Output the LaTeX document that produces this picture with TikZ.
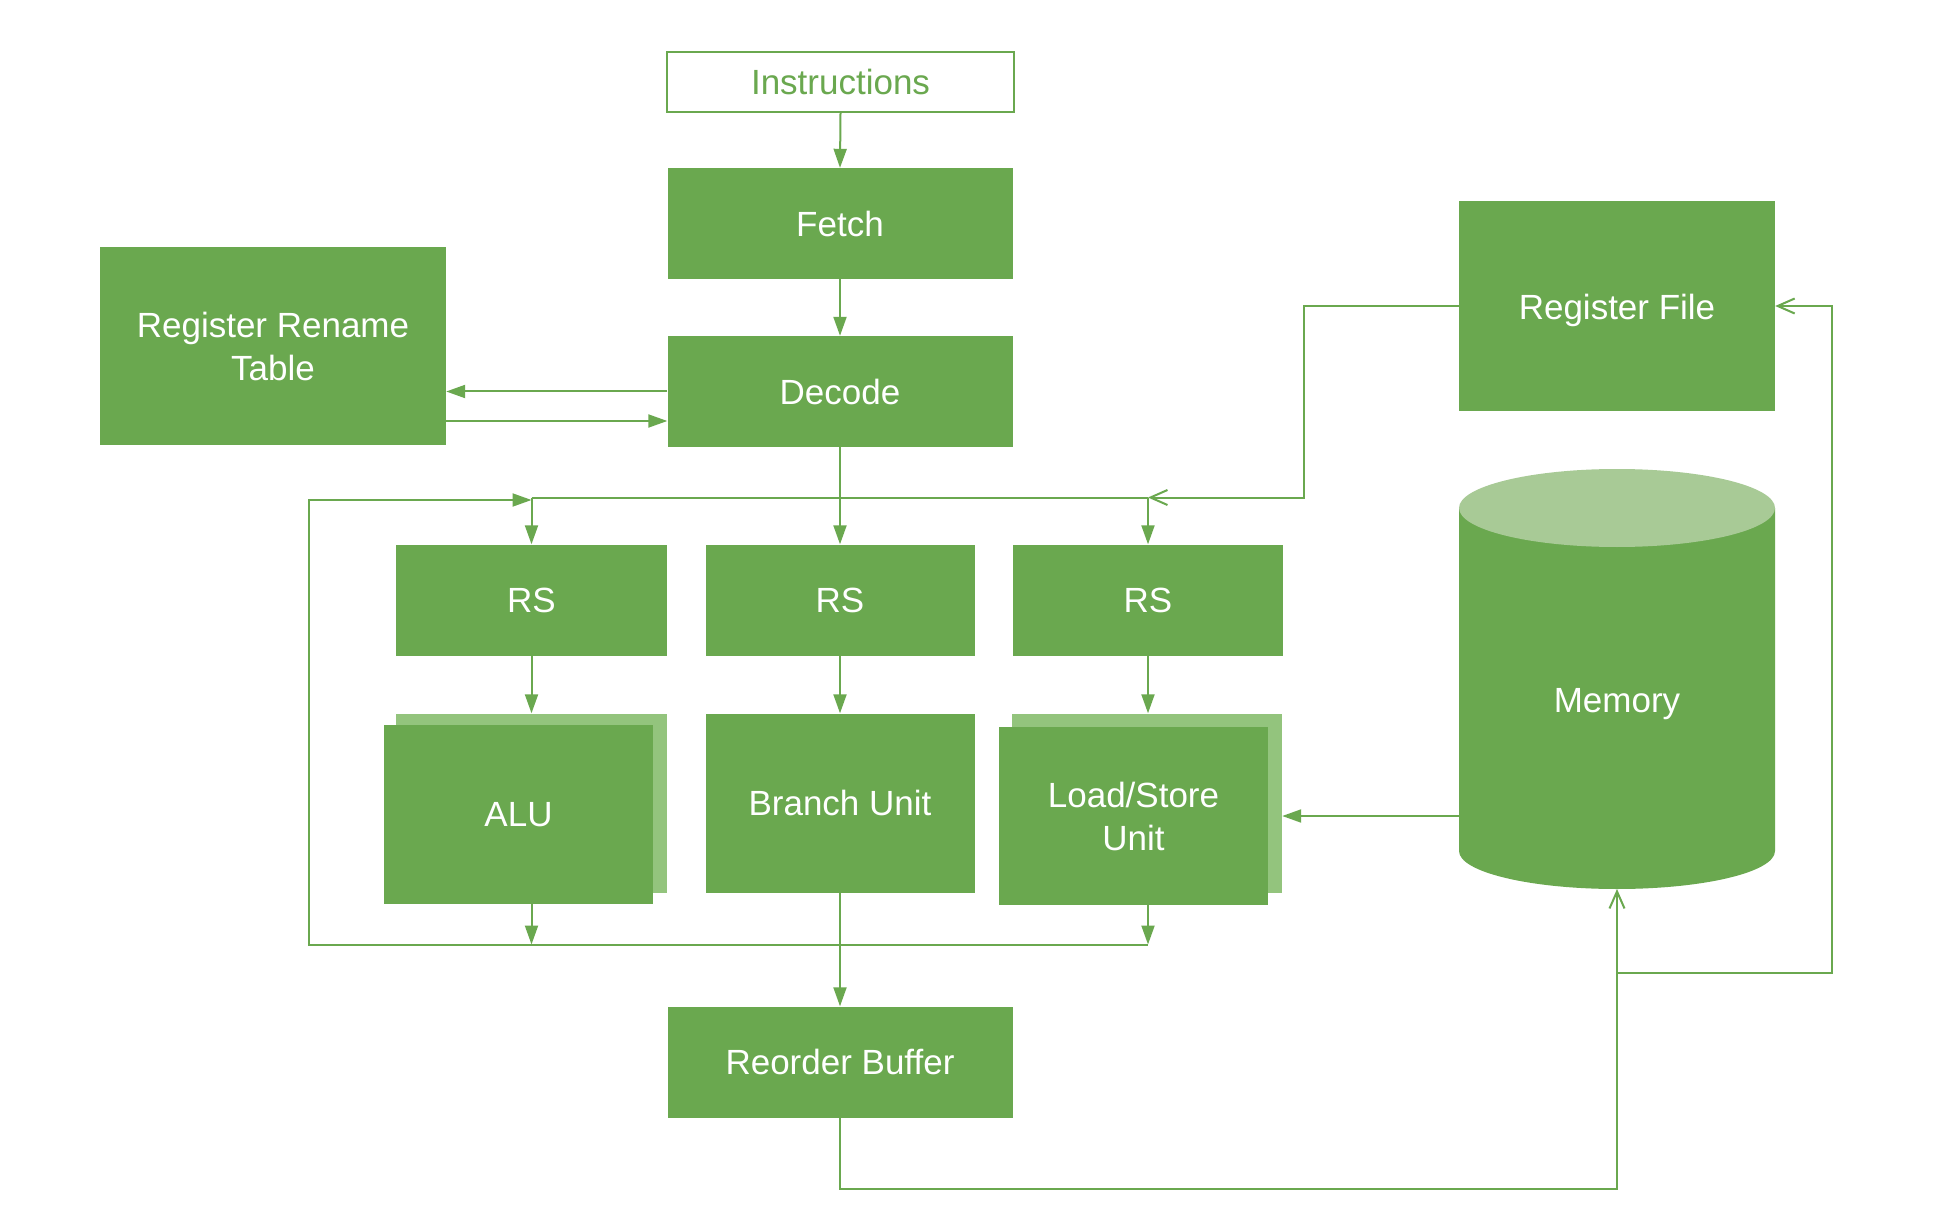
\documentclass[tikz,border=0pt]{standalone}
\usepackage{fontspec}
\setmainfont{Liberation Sans}
\usetikzlibrary{arrows.meta,calc}
\definecolor{gmain}{HTML}{6AA84F}
\definecolor{glight}{HTML}{93C47D}
\definecolor{gtop}{HTML}{A8CA96}
\tikzset{
  box/.style={fill=gmain, draw=none, text=white, inner sep=0pt, align=center,
    font=\fontsize{35}{43}\selectfont},
  shadowbox/.style={fill=glight, draw=none, inner sep=0pt},
  conn/.style={draw=gmain, line width=2pt},
  arr/.style={conn, -{Triangle[length=19pt,width=13pt]}},
  openarr/.style={conn, -{Straight Barb[length=17pt,width=15pt,line width=2pt]}},
}
\begin{document}
\begin{tikzpicture}[x=1pt,y=-1pt]
\useasboundingbox (0,0) rectangle (1936,1214);
\fill[white] (0,0) rectangle (1936,1214);

% top column
\node[box, fill=white, draw=gmain, line width=2pt, text=gmain, minimum width=347pt, minimum height=60pt] (instr) at (840.5,82) {Instructions};
\node[box, minimum width=345pt, minimum height=111pt] (fetch) at (840,223.5) {Fetch};
\node[box, minimum width=345pt, minimum height=111pt] (decode) at (840,391.5) {Decode};
\node[box, minimum width=346pt, minimum height=198pt] (rrt) at (273,346) {Register Rename\\Table};
\node[box, minimum width=316pt, minimum height=210pt] (rf) at (1617,306) {};
\node[box, fill=none] (rftext) at ([yshift=-4pt]rf.center) {Register File};

% memory cylinder
\fill[gmain] (1459,508) -- (1459,851) arc[start angle=180, end angle=360, x radius=158pt, y radius=38pt] -- (1775,508) -- cycle;
\fill[gtop] (1617,508) ellipse[x radius=158pt, y radius=39pt];
\node[box, fill=none, minimum width=316pt, minimum height=300pt] (mem) at (1617,704) {Memory};
\coordinate (memw) at (1459,816);
\coordinate (membot) at (1617,889);

% reservation stations
\node[box, minimum width=271pt, minimum height=111pt] (rs1) at (531.5,600) {RS};
\node[box, minimum width=269pt, minimum height=111pt] (rs2) at (840,600) {RS};
\node[box, minimum width=270pt, minimum height=111pt] (rs3) at (1148,600) {RS};

% execution units
\node[shadowbox, minimum width=271pt, minimum height=179pt] (alus) at (531.5,803) {};
\node[box, minimum width=269pt, minimum height=179pt] (alu) at (518.5,814.5) {ALU};
\node[box, minimum width=269pt, minimum height=179pt] (branch) at (840,803) {Branch Unit};
\node[shadowbox, minimum width=270pt, minimum height=179pt] (lss) at (1147,803) {};
\node[box, minimum width=269pt, minimum height=178pt] (ls) at (1133.5,816) {Load/Store\\Unit};

\node[box, minimum width=345pt, minimum height=111pt] (rb) at (840,1062) {Reorder Buffer};

% bus coordinates
\coordinate (bus) at (840,497.5);
\coordinate (fb) at (309,500);
\coordinate (rfj) at (1304,497.5);
\coordinate (bot) at (840,944.5);
\coordinate (rbc) at (1617,1189);
\coordinate (rfloop) at (1832,973);

% connectors
\draw[arr] (instr.south) -- (fetch.north);
\draw[arr] (fetch.south) -- (decode.north);
\draw[arr] (decode.west) -- (decode.west -| rrt.east);
\draw[arr] ([yshift=-29.5pt]rrt.east |- decode.west) -- ([yshift=-29.5pt]decode.west);
\draw[arr] (decode.south) -- (rs2.north);
\draw[conn] (bus -| rs1.north) -- (bus -| rs3.north);
\draw[arr] (bus -| rs1.north) -- (rs1.north);
\draw[arr] (bus -| rs3.north) -- (rs3.north);
\draw[openarr] (rf.west) -| (rfj) -- (bus -| rs3.north);

\draw[arr] (rs1.south) -- (rs1.south |- alus.north);
\draw[arr] (rs2.south) -- (branch.north);
\draw[arr] (rs3.south) -- (rs3.south |- lss.north);

\draw[arr] (alu.south -| rs1.south) -- (bot -| rs1.south);
\draw[arr] (ls.south -| rs3.south) -- (bot -| rs3.south);
\draw[conn] (bot -| rs1.south) -- (bot -| rs3.south);
\draw[arr] (bot -| rs1.south) -| (fb) -- (fb -| rs1.north);

\draw[arr] (branch.south) -- (rb.north);
\draw[openarr] (rb.south) |- (rbc) -- (membot);
\draw[openarr] (rfloop -| membot) -- (rfloop) |- (rf.east);
\draw[arr] (memw) -- (memw -| lss.east);
\end{tikzpicture}
\end{document}
